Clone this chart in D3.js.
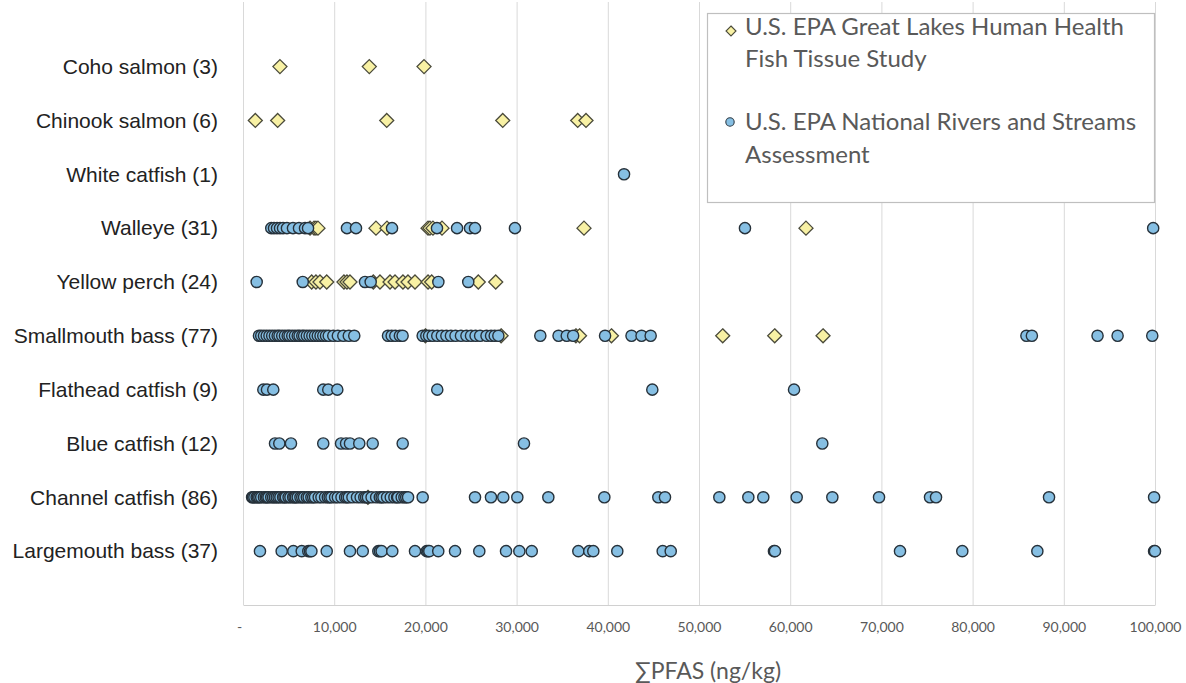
<!DOCTYPE html>
<html>
<head>
<meta charset="utf-8">
<script src="https://cdn.jsdelivr.net/npm/d3@7"></script>
<style>
  body { margin: 0; background: #fff; }
  svg { display: block; }
</style>
</head>
<body>
<div id="chart"></div>
<script>
// Data -------------------------------------
var categories = ['Coho salmon (3)', 'Chinook salmon (6)', 'White catfish (1)', 'Walleye (31)',
  'Yellow perch (24)', 'Smallmouth bass (77)', 'Flathead catfish (9)', 'Blue catfish (12)',
  'Channel catfish (86)', 'Largemouth bass (37)'];

var xTicks = [0, 10000, 20000, 30000, 40000, 50000, 60000, 70000, 80000, 90000, 100000];
var xTickLabels = ['-', '10,000', '20,000', '30,000', '40,000', '50,000', '60,000', '70,000',
  '80,000', '90,000', '100,000'];

var legendLines = [
  ['U.S. EPA Great Lakes Human Health', 'Fish Tissue Study'],
  ['U.S. EPA National Rivers and Streams', 'Assessment']
];

// U.S. EPA Great Lakes Human Health Fish Tissue Study (diamonds), same order as categories
var greatLakes = [
  [4050, 13850, 19850],
  [1350, 3800, 15760, 28480, 36700, 37610],
  [],
  [7350, 7790, 8000, 8220, 14580, 15790, 20290, 20500, 20830, 21820, 37390, 61730],
  [7530, 8000, 8440, 9180, 11070, 11400, 11730, 14290, 15020, 16120, 16670, 17540, 18090,
    18860, 20290, 20690, 25800, 27710],
  [20000, 28300, 36500, 36900, 40400, 52600, 58300, 63600],
  [],
  [],
  [13700],
  []
];

// U.S. EPA National Rivers and Streams Assessment (circles), same order as categories
var rivers = [
  [],
  [],
  [41780],
  [3100, 3400, 3730, 4060, 4390, 4820, 5480, 6140, 6800, 7130, 11400, 12390, 16340, 21270,
    23470, 24890, 25440, 29820, 55040, 99800],
  [1500, 6550, 13380, 14000, 21420, 24700],
  [1750, 2000, 2300, 2600, 2900, 3200, 3500, 3800, 4000, 4300, 4600, 4900, 5100, 5400, 5700,
    6000, 6200, 6500, 6700, 7000, 7300, 7600, 7900, 8200, 8500, 8800, 9100, 9400, 9900, 10400,
    11000, 11600, 12200,
    15900, 16300, 16700, 17200, 17500, 19700, 20100, 20400, 20800, 21300, 21800, 22300, 22800,
    23300, 23900, 24500, 25000, 25500, 26000, 26700, 27200, 27600, 28000,
    32600, 34600, 35500, 36200, 39700, 42600, 43700, 44700, 85900, 86500, 93700, 95900, 99700],
  [2230, 2630, 3320, 8800, 9350, 10340, 21300, 44880, 60420],
  [3510, 3980, 5260, 8800, 10750, 11300, 11730, 12750, 14220, 17510, 30810, 63520],
  [1000, 1100, 1250, 1500, 1650, 1800, 2000, 2300, 2500, 2650, 2800, 3100, 3300, 3500, 3700,
    3900, 4100, 4400, 4550, 4700, 5000, 5200, 5500, 5650, 5800, 6000, 6300, 6500, 6700, 7000,
    7200, 7500, 7700, 7900, 8300, 8600, 9000, 9300, 9500, 9700, 10100, 10400, 10800, 11200,
    11400, 11600, 12000, 12500, 12900, 13300, 13500, 13700, 14100, 14600, 15000, 15200, 15400,
    15800, 16200, 16600, 16900, 17000, 17400, 17700, 17900, 18100,
    19700, 25440, 27190, 28540, 30080, 33480, 39620, 45540, 46270, 52230, 55410, 57050, 60710,
    64620, 69740, 75330, 75990, 88380, 99900],
  [1860, 4240, 5520, 6440, 7160, 7350, 7500, 9180, 11730, 13130, 14840, 15020, 15200, 16370,
    18860, 20140, 20300, 20430, 21410, 23250, 25910, 28840, 30300, 31660, 36770, 37970, 38410,
    41040, 46020, 46900, 58220, 58330, 72040, 78870, 87100, 99900, 100000]
];

// Chart settings -------------------------------------
var width = 1186;
var height = 683;
var plotLeft = 243;
var plotRight = 1155;
var plotTop = 2;
var plotBottom = 605;

var greyText = '#595959';
var labelFont = 'Lato, "Open Sans", sans-serif';

var svg = d3.select('#chart')
  .append('svg')
  .attr('width', width)
  .attr('height', height);

// Scales -------------------------------------
var x = d3.scaleLinear()
  .domain([0, 100000])
  .range([plotLeft, plotRight]);

// each category sits on a whole number, Coho salmon on top
var y = d3.scaleLinear()
  .domain([0, 11.2])
  .range([plotBottom, plotTop]);

function rowOf(i) {
  return categories.length - i;
}

// Gridlines -------------------------------------
var grid = svg.append('g')
  .attr('transform', 'translate(0,' + plotBottom + ')')
  .call(d3.axisBottom(x)
    .tickValues(xTicks)
    .tickSize(-(plotBottom - plotTop))
    .tickFormat(''));
grid.select('.domain').remove();
grid.selectAll('line')
  .attr('stroke', '#d9d9d9')
  .attr('stroke-width', 1);

// Bottom axis -------------------------------------
var xAxis = svg.append('g')
  .attr('transform', 'translate(0,' + plotBottom + ')')
  .call(d3.axisBottom(x)
    .tickValues(xTicks)
    .tickSize(0)
    .tickPadding(17)
    .tickFormat(function(d, i) {
      return xTickLabels[i];
    }));
xAxis.select('.domain')
  .attr('stroke', '#d0d0d0');
xAxis.selectAll('text')
  .style('font-family', labelFont)
  .style('font-size', '14px')
  .attr('fill', greyText)
  .attr('dx', function(d) {
    return d === 0 ? -4 : 0;
  });

// Left category labels -------------------------------------
var yAxis = svg.append('g')
  .attr('transform', 'translate(' + plotLeft + ',0)')
  .call(d3.axisLeft(y)
    .tickValues(categories.map(function(c, i) {
      return rowOf(i);
    }))
    .tickSize(0)
    .tickPadding(25)
    .tickFormat(function(d) {
      return categories[categories.length - d];
    }));
yAxis.select('.domain').remove();
yAxis.selectAll('text')
  .style('font-family', '"Liberation Sans", Arial, sans-serif')
  .style('font-size', '21px')
  .attr('fill', '#222');

// Axis title -------------------------------------
svg.append('text')
  .attr('x', 708)
  .attr('y', 679)
  .attr('text-anchor', 'middle')
  .style('font-family', labelFont)
  .style('font-size', '23px')
  .attr('fill', greyText)
  .text('\u2211PFAS (ng/kg)');

// Points -------------------------------------
var glPoints = [];
var riverPoints = [];
categories.forEach(function(c, i) {
  greatLakes[i].forEach(function(v) {
    glPoints.push({ row: rowOf(i), value: v });
  });
  rivers[i].forEach(function(v) {
    riverPoints.push({ row: rowOf(i), value: v });
  });
});

var diamond = 'M0,-7L7,0L0,7L-7,0Z';

svg.append('g')
  .selectAll('path')
  .data(glPoints)
  .enter()
  .append('path')
  .attr('d', diamond)
  .attr('transform', function(d) {
    return 'translate(' + x(d.value) + ',' + y(d.row) + ')';
  })
  .attr('fill', '#f8f1a4')
  .attr('stroke', '#4a4a3a')
  .attr('stroke-width', 1.3);

svg.append('g')
  .selectAll('circle')
  .data(riverPoints)
  .enter()
  .append('circle')
  .attr('cx', function(d) { return x(d.value); })
  .attr('cy', function(d) { return y(d.row); })
  .attr('r', 5.6)
  .attr('fill', '#86bfe3')
  .attr('stroke', '#26313a')
  .attr('stroke-width', 1.4);

// Legend -------------------------------------
var legend = svg.append('g');
legend.append('rect')
  .attr('x', 707.5)
  .attr('y', 13.5)
  .attr('width', 447)
  .attr('height', 189)
  .attr('fill', '#fff')
  .attr('stroke', '#bfbfbf')
  .attr('stroke-width', 1.2);

legend.append('path')
  .attr('d', 'M0,-5L5,0L0,5L-5,0Z')
  .attr('transform', 'translate(731,31)')
  .attr('fill', '#f8f1a4')
  .attr('stroke', '#4a4a3a')
  .attr('stroke-width', 1.1);

legend.append('circle')
  .attr('cx', 730)
  .attr('cy', 122)
  .attr('r', 4.2)
  .attr('fill', '#86bfe3')
  .attr('stroke', '#2e3a44')
  .attr('stroke-width', 1.1);

var legendBaselines = [[35, 67], [130, 163]];
legendLines.forEach(function(lines, i) {
  lines.forEach(function(line, j) {
    legend.append('text')
      .attr('x', 745)
      .attr('y', legendBaselines[i][j])
      .style('font-family', labelFont)
      .style('font-size', '24px')
      .attr('fill', greyText)
      .text(line);
  });
});
</script>
</body>
</html>
